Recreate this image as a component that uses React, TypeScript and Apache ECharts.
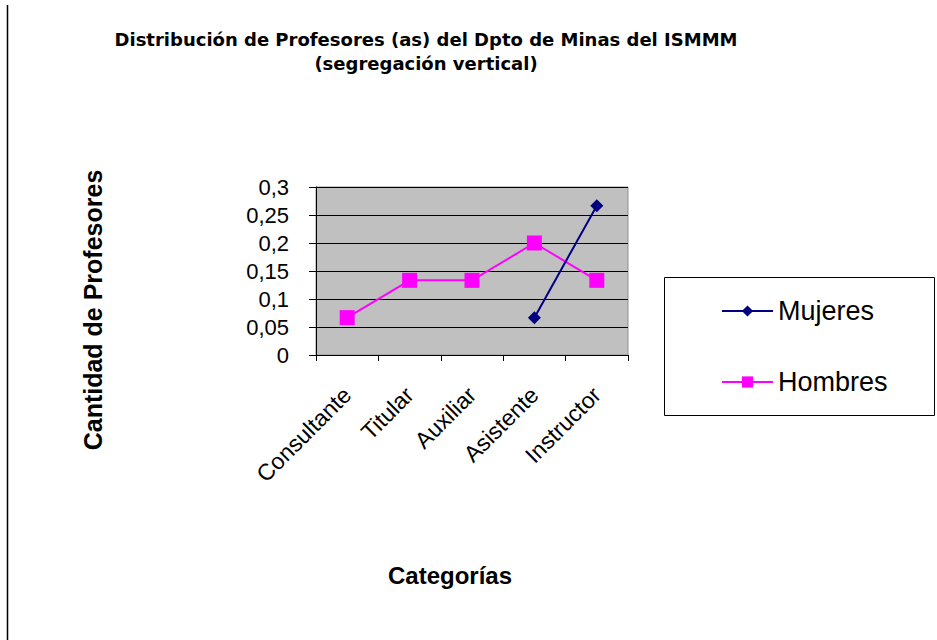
import React, { useEffect, useRef } from "react";
import * as echarts from "echarts";

const categories = ["Consultante", "Titular", "Auxiliar", "Asistente", "Instructor"];
const mujeres = [null, null, null, 0.0667, 0.2667];
const hombres = [0.0667, 0.1333, 0.1333, 0.2, 0.1333];
const yTicks = { min: 0, max: 0.3, interval: 0.05 };

export default function App() {
  const ref = useRef<HTMLDivElement>(null);
  useEffect(() => {
    const chart = echarts.init(ref.current!, null, { renderer: "svg" });
    const font = "'Liberation Sans', Arial, sans-serif";
    chart.setOption({
      animation: false,
      backgroundColor: "#ffffff",
      title: {
        text: "Distribución de Profesores (as) del Dpto de Minas del ISMMM\n(segregación vertical)",
        left: 426,
        top: 27,
        padding: 0,
        textAlign: "center",
        textStyle: {
          fontFamily: "'DejaVu Sans', sans-serif",
          fontWeight: "bold",
          fontSize: 18,
          lineHeight: 24,
          color: "#000",
        },
      },
      grid: { left: 316, top: 187, width: 312, height: 168, show: true, backgroundColor: "#C0C0C0", borderColor: "#909090", borderWidth: 1 },
      legend: {
        orient: "vertical",
        left: 721,
        top: 297,
        itemWidth: 51,
        itemHeight: 14,
        itemGap: 43,
        padding: 0,
        textStyle: { fontFamily: font, fontSize: 27, color: "#000", lineHeight: 28 },
        data: ["Mujeres", "Hombres"],
      },
      xAxis: {
        type: "category",
        data: categories,
        boundaryGap: true,
        axisLine: { lineStyle: { color: "#000", width: 1 } },
        axisTick: { show: true, length: 6, lineStyle: { color: "#000" } },
        axisLabel: { rotate: 45, margin: 36, interval: 0, fontFamily: font, fontSize: 23, color: "#000" },
        splitLine: { show: false },
      },
      yAxis: {
        type: "value",
        min: yTicks.min,
        max: yTicks.max,
        interval: yTicks.interval,
        axisLine: { show: true, lineStyle: { color: "#000", width: 1 } },
        axisTick: { show: true, length: 7, lineStyle: { color: "#000" } },
        axisLabel: {
          fontFamily: font,
          fontSize: 22,
          color: "#000",
          margin: 27,
          formatter: (v: number) => String(Math.round(v * 100) / 100).replace(".", ","),
        },
        splitLine: { show: true, lineStyle: { color: "#000", width: 1 } },
      },
      series: [
        {
          name: "Mujeres",
          type: "line",
          data: mujeres,
          symbol: "diamond",
          symbolSize: 13,
          color: "#000080",
          lineStyle: { color: "#000080", width: 2 },
          itemStyle: { color: "#000080" },
          connectNulls: false,
          z: 3,
        },
        {
          name: "Hombres",
          type: "line",
          data: hombres,
          symbol: "rect",
          symbolSize: 15,
          color: "#FF00FF",
          lineStyle: { color: "#FF00FF", width: 2 },
          itemStyle: { color: "#FF00FF" },
          z: 2,
        },
      ],
      graphic: [
        { type: "line", shape: { x1: 7.5, y1: 5, x2: 7.5, y2: 640 }, style: { stroke: "#000", lineWidth: 1.5 } },
        { type: "rect", shape: { x: 664.5, y: 277.5, width: 270, height: 138 }, style: { fill: "none", stroke: "#000", lineWidth: 1 } },
        {
          type: "text",
          x: 93,
          y: 310,
          rotation: Math.PI / 2,
          style: { text: "Cantidad de Profesores", align: "center", verticalAlign: "middle", fontFamily: font, fontWeight: "bold", fontSize: 25, fill: "#000" },
        },
        {
          type: "text",
          x: 450,
          y: 575,
          style: { text: "Categorías", align: "center", verticalAlign: "middle", fontFamily: font, fontWeight: "bold", fontSize: 24, fill: "#000" },
        },
      ],
    });
    return () => chart.dispose();
  }, []);
  return <div ref={ref} style={{ position: "fixed", left: 0, top: 0, width: 937, height: 640 }} />;
}
